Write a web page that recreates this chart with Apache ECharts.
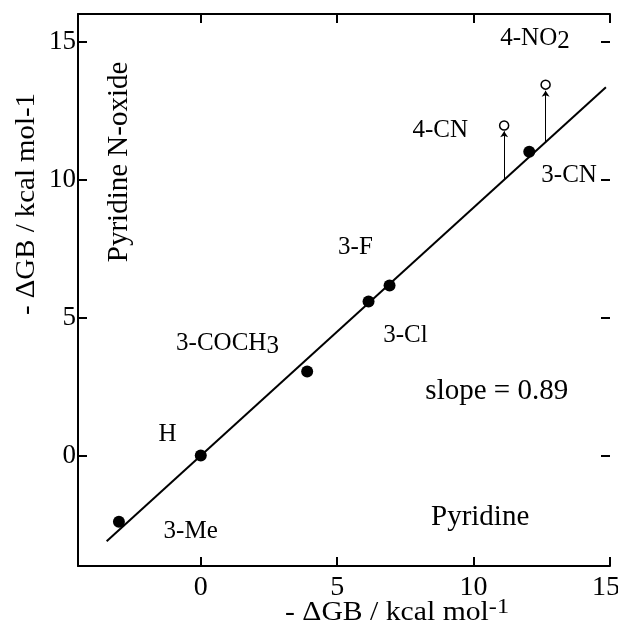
<!DOCTYPE html>
<html lang="en">
<head>
    <meta charset="UTF-8">
    <title>GB correlation</title>
    <style>
        html, body { margin: 0; padding: 0; background: #fff; }
        #main { width: 618px; height: 637px; }
    </style>
</head>
<body>
    <div id="main"></div>
    <script src="https://cdn.jsdelivr.net/npm/echarts@6/dist/echarts.min.js"></script>
    <script>
        // filled points: pyridine (x) vs pyridine N-oxide (y)
        var subst = ['3-Me', 'H', '3-COCH3', '3-F', '3-Cl', '3-CN'];
        var pyridine = [-3.0, 0, 3.9, 6.15, 6.92, 12.04];
        var nOxide = [-2.4, 0, 3.05, 5.58, 6.16, 11.01];

        // open circles (with arrows up from the line)
        var openNames = ['4-CN', '4-NO2'];
        var openX = [11.12, 12.64];
        var openY = [11.96, 13.44];
        var arrowBase = [10.0, 11.36];
        var arrowTop = [11.75, 13.22];

        // fitted line, slope 0.89
        var fitX = [-3.45, 14.85];
        var fitY = [-3.1, 13.35];

        // text labels placed in data units
        var noteText = ['3-Me', 'H', '3-COCH{s|3}', '3-F', '3-Cl', '3-CN', '4-CN', '4-NO{s|2}'];
        var noteX = [-0.37, -1.22, 0.98, 5.67, 7.5, 13.5, 8.78, 12.25];
        var noteY = [-2.73, 0.77, 4.07, 7.53, 4.37, 10.14, 11.78, 15.12];

        var regionText = ['Pyridine N-oxide', 'slope = 0.89', 'Pyridine'];
        var regionX = [-2.99, 10.85, 10.24];
        var regionY = [10.64, 2.31, -2.25];
        var regionRotate = [90, 0, 0];

        var serif = 'Liberation Serif';

        function tickFmt(v) {
            if (Math.abs(v % 5) > 1e-9) return '';
            return v === 15 ? '{r|15}' : String(v);
        }

        var filled = pyridine.map(function (x, i) { return [x, nOxide[i]]; });
        var open = openX.map(function (x, i) { return [x, openY[i]]; });
        var arrows = openX.map(function (x, i) {
            return [{ coord: [x, arrowBase[i]] }, { coord: [x, arrowTop[i]] }];
        });
        var notes = noteText.map(function (t, i) {
            return { value: [noteX[i], noteY[i]], name: t };
        });
        var regions = regionText.map(function (t, i) {
            return { value: [regionX[i], regionY[i]], name: t, label: { rotate: regionRotate[i] } };
        });

        var tickStyle = { show: true, inside: true, length: 9, lineStyle: { color: '#000', width: 2 } };
        var lineStyle = { show: true, onZero: false, lineStyle: { color: '#000', width: 2 } };

        var option = {
            backgroundColor: '#fff',
            animation: false,
            grid: { left: 78, right: 8, top: 14, bottom: 71, outerBoundsMode: 'none' },
            xAxis: [{
                type: 'value', position: 'bottom', min: -4.5, max: 15, splitNumber: 4,
                axisLine: lineStyle, axisTick: tickStyle, splitLine: { show: false },
                axisLabel: {
                    color: '#000', fontFamily: serif, fontSize: 28, margin: 8, formatter: tickFmt,
                    rich: { r: { color: '#000', fontFamily: serif, fontSize: 28, padding: [0, 8, 0, 0] } }
                }
            }, {
                type: 'value', position: 'top', min: -4.5, max: 15, splitNumber: 4,
                axisLine: lineStyle, axisTick: tickStyle, splitLine: { show: false },
                axisLabel: { show: false }
            }],
            yAxis: [{
                type: 'value', position: 'left', min: -4, max: 16, splitNumber: 4,
                axisLine: lineStyle, axisTick: tickStyle, splitLine: { show: false },
                axisLabel: {
                    color: '#000', fontFamily: serif, fontSize: 27, margin: 2, formatter: tickFmt,
                    rich: { r: { color: '#000', fontFamily: serif, fontSize: 27 } }
                }
            }, {
                type: 'value', position: 'right', min: -4, max: 16, splitNumber: 4,
                axisLine: { show: false, onZero: false }, axisTick: tickStyle, splitLine: { show: false },
                axisLabel: { show: false }
            }],
            graphic: [{
                type: 'text', left: 13, top: 93,
                rotation: Math.PI / 2, scaleX: 1.03,
                style: { text: '- ΔGB / kcal mol-1', fontFamily: serif, fontSize: 28, fill: '#000' }
            }, {
                type: 'text', left: 285, top: 596, scaleX: 1.1,
                style: {
                    text: '- ΔGB / kcal mol{s|-1}', fontFamily: serif, fontSize: 27, fill: '#000',
                    rich: { s: { fontFamily: serif, fontSize: 22, fill: '#000', padding: [0, 0, 12, 0] } }
                }
            }],
            series: [{
                type: 'line', data: [[fitX[0], fitY[0]], [fitX[1], fitY[1]]],
                symbol: 'none', lineStyle: { color: '#000', width: 2 }, z: 2
            }, {
                type: 'scatter', data: filled, symbol: 'circle', symbolSize: 12,
                itemStyle: { color: '#000', opacity: 1 }, z: 4
            }, {
                type: 'scatter', data: open, symbol: 'circle', symbolSize: 9,
                itemStyle: { color: '#fff', borderColor: '#000', borderWidth: 1.5, opacity: 1 }, z: 4,
                markLine: {
                    silent: true, symbol: ['none', 'arrow'], symbolSize: 6,
                    label: { show: false },
                    lineStyle: { color: '#000', width: 1, type: 'solid', opacity: 1 },
                    data: arrows
                }
            }, {
                type: 'scatter', data: notes, symbolSize: 1, itemStyle: { color: 'transparent', opacity: 1 }, silent: true,
                label: {
                    show: true, position: 'inside', color: '#000', opacity: 1, fontFamily: serif, fontSize: 25,
                    formatter: function (p) { return p.name; },
                    rich: { s: { fontFamily: serif, fontSize: 25, color: '#000', padding: [6, 0, 0, 0] } }
                }
            }, {
                type: 'scatter', data: regions, symbolSize: 1, itemStyle: { color: 'transparent', opacity: 1 }, silent: true,
                label: {
                    show: true, position: 'inside', color: '#000', opacity: 1, fontFamily: serif, fontSize: 29,
                    formatter: function (p) { return p.name; }
                }
            }]
        };

        var myChart = echarts.init(document.getElementById('main'));
        myChart.setOption(option);
    </script>
</body>
</html>
